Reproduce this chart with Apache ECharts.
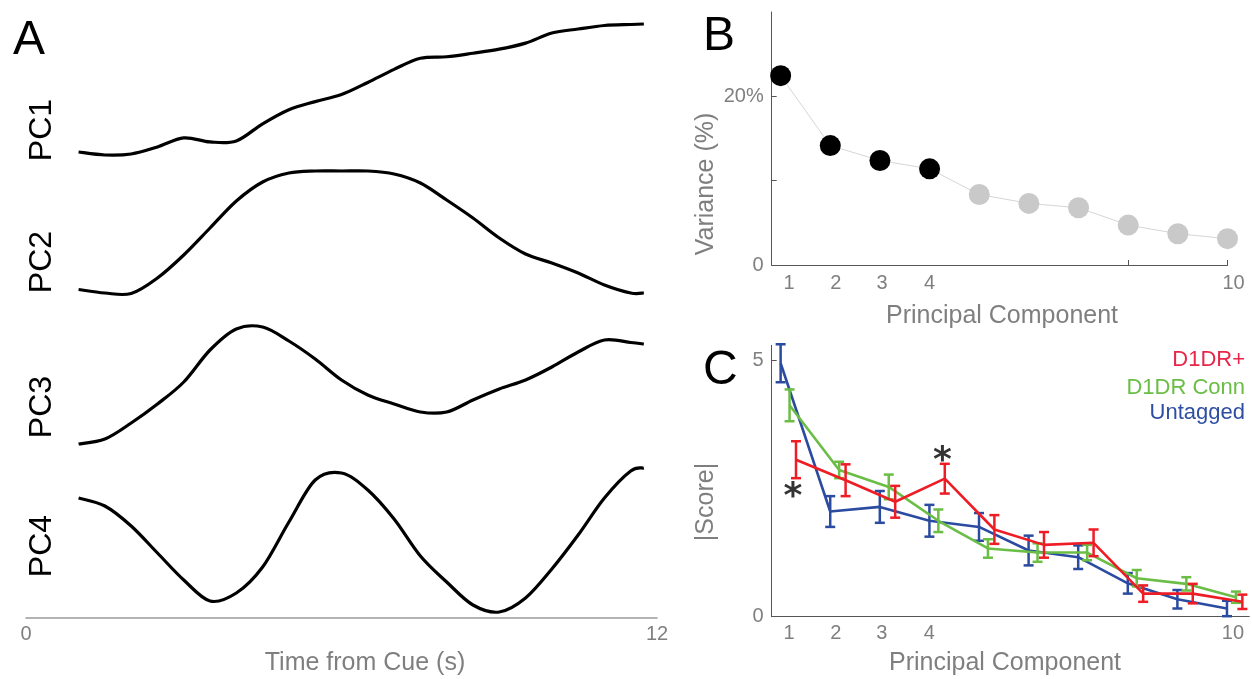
<!DOCTYPE html>
<html><head><meta charset="utf-8">
<script src="https://cdn.jsdelivr.net/npm/echarts@6/dist/echarts.min.js"></script>
<style>html,body{margin:0;padding:0;background:#fff}#c{width:1252px;height:679px}</style>
</head><body><div id="c"></div>
<script>
// ---------- Panel A: PC time courses (arbitrary units) ----------
const timeSec = [1,1.5,2,2.5,3,3.5,4,4.5,5,5.5,6,6.5,7,7.5,8,8.5,9,9.5,10,10.5,11,11.5,11.75];
const pc1 = [6,3,4,11,20,16,17,34,48,56,63,75,88,99,100.5,104,108,114,124,128,131.5,132.5,133];
const pc2 = [6.5,3,2.5,18,41,68,95,114,123,125,125,125,122,113,96,78,58,42,33,23,11,3,3];
const pc3 = [0,5,21,40,62,94,115,117,103,85,64,49,40,32,32,44,55,64,77,92,104,101.5,100];
const pc4 = [115,107,87,60,33,12,20,46,91,133,140,123,94,57,31,8,1,15,44,78,115,142,145];
const pcNames = ['PC1','PC2','PC3','PC4'];
const timeTicks = [0,12];

// ---------- Panel B: variance explained ----------
const components = [1,2,3,4,5,6,7,8,9,10];
const variancePct = [22.45,14.16,12.39,11.4,8.36,7.3,6.79,4.73,3.71,3.12];
const retainedCount = 4;
const compLabelTicks = [1,2,3,4,10];
const varianceTicks = [0,20];

// ---------- Panel C: |score| by group ----------
const groupNames = ['D1DR+','D1DR Conn','Untagged'];
const d1drMean = [3.06,2.66,2.24,2.69,1.70,1.40,1.44,0.45,0.45,0.29];
const d1drErr  = [0.36,0.31,0.31,0.29,0.28,0.25,0.26,0.16,0.19,0.14];
const connMean = [4.12,2.86,2.53,1.87,1.33,1.25,1.25,0.75,0.64,0.38];
const connErr  = [0.31,0.16,0.24,0.22,0.18,0.18,0.15,0.16,0.13,0.11];
const untagMean = [4.94,2.05,2.14,1.87,1.75,1.29,1.16,0.65,0.34,0.16];
const untagErr  = [0.37,0.30,0.31,0.31,0.27,0.29,0.23,0.20,0.18,0.15];
const scoreTicks = [0,5];
const sigStars = [[1.25,2.47],[4.26,3.18]];

const FONT = "'Liberation Sans', Arial, sans-serif";
const GRAY = '#7f7f7f';
const groupLine = ['#ee1c25','#6abd45','#2b4ba0'];
const groupText = ['#e7264a','#6abd45','#2e4fa1'];
const dodge = [0.31, 0.18, 0];

const chart = echarts.init(document.getElementById('c'), null, {renderer:'canvas'});

const compRich = {
  s1:{padding:[0,0,0,17], color:GRAY, fontFamily:FONT, fontSize:20},
  s2:{padding:[0,0,0,11], color:GRAY, fontFamily:FONT, fontSize:20},
  s3:{padding:[0,0,0,4], color:GRAY, fontFamily:FONT, fontSize:20},
  s4:{padding:[0,0,0,0], color:GRAY, fontFamily:FONT, fontSize:20},
  s10:{padding:[0,0,0,12], color:GRAY, fontFamily:FONT, fontSize:20}
};
const compFmt = v => '{s'+v+'|'+v+'}';

const aGrids = [
  {left:26, width:631, top:24, height:131},
  {left:26, width:631, top:171, height:122.5},
  {left:26, width:631, top:327, height:117},
  {left:26, width:631, top:468, height:144}
];
const grids = aGrids.concat([
  {left:771.7, width:455.8, top:12, height:253},
  {left:771.7, width:477.6, top:345.3, height:271.4}
]);
const xAxes = [], yAxes = [], series = [];
const pcs = [pc1,pc2,pc3,pc4];

function curveRender(arr){
  return function(params, api){
    if (params.dataIndex !== 0) return null;
    const p = timeSec.map((t,j)=>api.coord([t, arr[j]]));
    let d = 'M'+p[0][0]+','+p[0][1];
    for (let i=0;i<p.length-1;i++){
      const p0 = p[i-1]||p[i], p1 = p[i], p2 = p[i+1], p3 = p[i+2]||p[i+1];
      const c1x = p1[0]+(p2[0]-p0[0])/6, c1y = p1[1]+(p2[1]-p0[1])/6;
      const c2x = p2[0]-(p3[0]-p1[0])/6, c2y = p2[1]-(p3[1]-p1[1])/6;
      d += ' C'+c1x+','+c1y+' '+c2x+','+c2y+' '+p2[0]+','+p2[1];
    }
    return {type:'path', shape:{pathData:d}, style:{stroke:'#000', lineWidth:3.2, fill:null, lineJoin:'round'}};
  };
}

pcs.forEach((arr,i)=>{
  const last = i===3;
  xAxes.push({
    gridIndex:i, type:'value', min:0, max:12, show:last, offset: last?6:0,
    axisLine:{show:true, lineStyle:{color:'#9a9a9a', width:1.5}},
    axisTick:{show:false}, splitLine:{show:false},
    axisLabel:{customValues:timeTicks, color:GRAY, fontFamily:FONT, fontSize:20, margin:6}
  });
  yAxes.push({gridIndex:i, type:'value', show:false, min:'dataMin', max:'dataMax', splitLine:{show:false}});
  series.push({
    type:'custom', name:pcNames[i], xAxisIndex:i, yAxisIndex:i, clip:false,
    renderItem: curveRender(arr), encode:{x:0, y:1},
    data: timeSec.map((t,j)=>[t, arr[j]])
  });
});

// panel B
xAxes.push({
  gridIndex:4, type:'value', min:0.82, max:10,
  axisLine:{lineStyle:{color:'#555', width:1}},
  axisTick:{show:true, inside:true, length:5, customValues:[8,10], lineStyle:{color:'#555'}},
  axisLabel:{customValues:compLabelTicks, formatter:compFmt, rich:compRich, color:GRAY, fontFamily:FONT, fontSize:20, margin:8},
  splitLine:{show:false}
});
yAxes.push({
  gridIndex:4, type:'value', min:0, max:30,
  axisLine:{show:true, lineStyle:{color:'#555', width:1}},
  axisTick:{show:true, inside:true, length:5, customValues:[10,20], lineStyle:{color:'#555'}},
  axisLabel:{customValues:varianceTicks, formatter:v=> v===0?'0':v+'%', color:GRAY, fontFamily:FONT, fontSize:20, margin:8},
  splitLine:{show:false}
});
series.push({
  type:'line', name:'Variance', xAxisIndex:4, yAxisIndex:4, symbol:'circle', symbolSize:21,
  lineStyle:{color:'#d6d6d6', width:1}, z:3,
  data: components.map((k,i)=>({value:[k, variancePct[i]], itemStyle:{color: i<retainedCount?'#000':'#c9c9c9'}}))
});

// panel C
xAxes.push({
  gridIndex:5, type:'value', min:0.82, max:10.45,
  axisLine:{lineStyle:{color:'#555', width:1}},
  axisTick:{show:true, inside:true, length:5, customValues:[10], lineStyle:{color:'#555'}},
  axisLabel:{customValues:compLabelTicks, formatter:compFmt, rich:compRich, color:GRAY, fontFamily:FONT, fontSize:20, margin:7},
  splitLine:{show:false}
});
yAxes.push({
  gridIndex:5, type:'value', min:0, max:5.29,
  axisLine:{show:true, lineStyle:{color:'#555', width:1}},
  axisTick:{show:true, inside:true, length:5, customValues:[5], lineStyle:{color:'#555'}},
  axisLabel:{customValues:scoreTicks, color:GRAY, fontFamily:FONT, fontSize:20, margin:8},
  splitLine:{show:false}
});

function errRender(color){
  return function(params, api){
    const x = api.value(0), lo = api.value(1), hi = api.value(2);
    const p1 = api.coord([x, hi]), p2 = api.coord([x, lo]);
    const w = 5;
    const style = {stroke:color, lineWidth:2.5, fill:null};
    return {type:'group', children:[
      {type:'line', shape:{x1:p1[0],y1:p1[1],x2:p2[0],y2:p2[1]}, style:style},
      {type:'line', shape:{x1:p1[0]-w,y1:p1[1],x2:p1[0]+w,y2:p1[1]}, style:style},
      {type:'line', shape:{x1:p2[0]-w,y1:p2[1],x2:p2[0]+w,y2:p2[1]}, style:style}
    ]};
  };
}
const means = [d1drMean, connMean, untagMean];
const errs = [d1drErr, connErr, untagErr];
[2,1,0].forEach(g=>{
  series.push({
    type:'line', name:groupNames[g], xAxisIndex:5, yAxisIndex:5, symbol:'none',
    lineStyle:{color:groupLine[g], width:2.6}, z:2+(2-g),
    data: components.map((k,i)=>[k+dodge[g], means[g][i]])
  });
  series.push({
    type:'custom', name:groupNames[g]+' SEM', xAxisIndex:5, yAxisIndex:5, z:2+(2-g), clip:false,
    renderItem: errRender(groupLine[g]), encode:{x:0, y:[1,2]},
    data: components.map((k,i)=>[k+dodge[g], means[g][i]-errs[g][i], means[g][i]+errs[g][i]])
  });
});
series.push({
  type:'scatter', name:'sig', xAxisIndex:5, yAxisIndex:5, symbolSize:2, z:10,
  itemStyle:{color:'rgba(0,0,0,0)'},
  label:{show:true, position:'inside', formatter:'*', color:'#000', fontSize:36, fontWeight:'bold',
    fontFamily:"'DejaVu Sans', sans-serif", textBorderWidth:0, offset:[0,8]},
  data: sigStars
});

const graphics = [];
const letter = (t,x,y)=>({type:'text', x:x, y:y, style:{text:t, font:'48px '+FONT, fill:'#000', align:'left', verticalAlign:'top'}});
graphics.push(letter('A',13,17), letter('B',703,13), letter('C',703,347));
const pcCenters = [130, 262, 407, 546];
pcNames.forEach((n,i)=>graphics.push({type:'text', x:42, y:pcCenters[i], rotation:Math.PI/2,
  style:{text:n, font:'32px '+FONT, fill:'#000', align:'center', verticalAlign:'middle'}}));
const title = (t,x,y,rot)=>({type:'text', x:x, y:y, rotation:rot||0,
  style:{text:t, font:'25px '+FONT, fill:GRAY, align:'center', verticalAlign:'middle'}});
graphics.push(title('Time from Cue (s)', 365, 663));
graphics.push(title('Principal Component', 1002, 316));
graphics.push(title('Principal Component', 1005, 663));
graphics.push(title('Variance (%)', 706, 184, Math.PI/2));
graphics.push(title('|Score|', 706, 502, Math.PI/2));
const legY = [360, 388, 413];
groupNames.forEach((n,g)=>graphics.push({type:'text', x:1245, y:legY[g],
  style:{text:n, font:'22px '+FONT, fill:groupText[g], align:'right', verticalAlign:'middle'}}));

chart.setOption({
  animation:false, backgroundColor:'#fff',
  grid:grids, xAxis:xAxes, yAxis:yAxes, series:series, graphic:graphics
});
</script></body></html>
